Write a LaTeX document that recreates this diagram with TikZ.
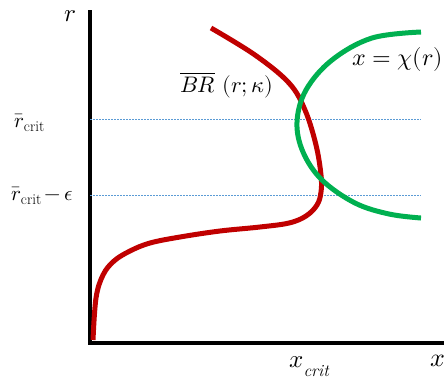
\documentclass[tikz,border=0pt]{standalone}
\usepackage{unicode-math}
\setmathfont{Latin Modern Math}
\begin{document}
\begin{tikzpicture}[x=1pt,y=-1pt,
  axis/.style={line width=4pt,black},
  guide/.style={dash pattern=on 1.5pt off 1.5pt,line width=1pt,color=guideblue},
  redc/.style={line width=5pt,color=brred},
  greenc/.style={line width=5pt,color=chigreen},
  lab/.style={inner sep=0pt,anchor=base west}]
\definecolor{brred}{HTML}{C00000}
\definecolor{chigreen}{HTML}{00B050}
\definecolor{guideblue}{HTML}{5B9BD5}
\useasboundingbox (0,0) rectangle (444,384);
% axes
\coordinate (o) at (90,343);
\coordinate (ytop) at (90,10);
\coordinate (xend) at (446,343);
\draw[axis] (ytop) -- (o) -- (xend);
% guides
\coordinate (g1a) at (90,119); \coordinate (g1b) at (421,119);
\coordinate (g2a) at (90,195); \coordinate (g2b) at (421,195);
\draw[guide] (g1a) -- (g1b);
\draw[guide] (g2a) -- (g2b);
% red curve
\draw[redc] plot[smooth,tension=0.6] coordinates {(211,28) (255,55) (289,83) (305,110) (316,145) (321,175) (321,192) (317,205) (306,216) (289,223) (260,227) (220,231) (180,237) (150,243) (130,251) (114,261) (103,275) (96,298) (93,340)};
% green curve
\draw[greenc] plot[smooth,tension=0.6] coordinates {(421,32) (372,38) (332,60) (306,90) (297,122) (303,152) (322,180) (355,203) (389,214) (421,218)};
% labels
\node[lab,font=\fontsize{25}{27}\selectfont] (rl) at (64,21) {$r$};
\node[lab,font=\fontsize{26}{28}\selectfont] (xl) at (430,366) {$x$};
\node[lab] (xc) at (289,367) {\fontsize{25}{27}\selectfont$x$\raisebox{-9pt}{\fontsize{17}{19}\selectfont$\mathit{crit}$}};
\node[lab] (rc) at (14,127) {\fontsize{21}{23}\selectfont$\bar r$\raisebox{-4pt}{\fontsize{15}{17}\selectfont crit}};
\node[lab] (rce) at (11,200) {\fontsize{21}{23}\selectfont$\bar r$\raisebox{-4pt}{\fontsize{15}{17}\selectfont crit}\,$-\,\epsilon$};
\node[lab,font=\fontsize{22.5}{24}\selectfont] (br) at (180,92) {$\overline{BR}\ (r;\kappa)$};
\node[lab,font=\fontsize{24}{26}\selectfont] (chi) at (352,65) {$x=\chi(r)$};
\end{tikzpicture}
\end{document}
